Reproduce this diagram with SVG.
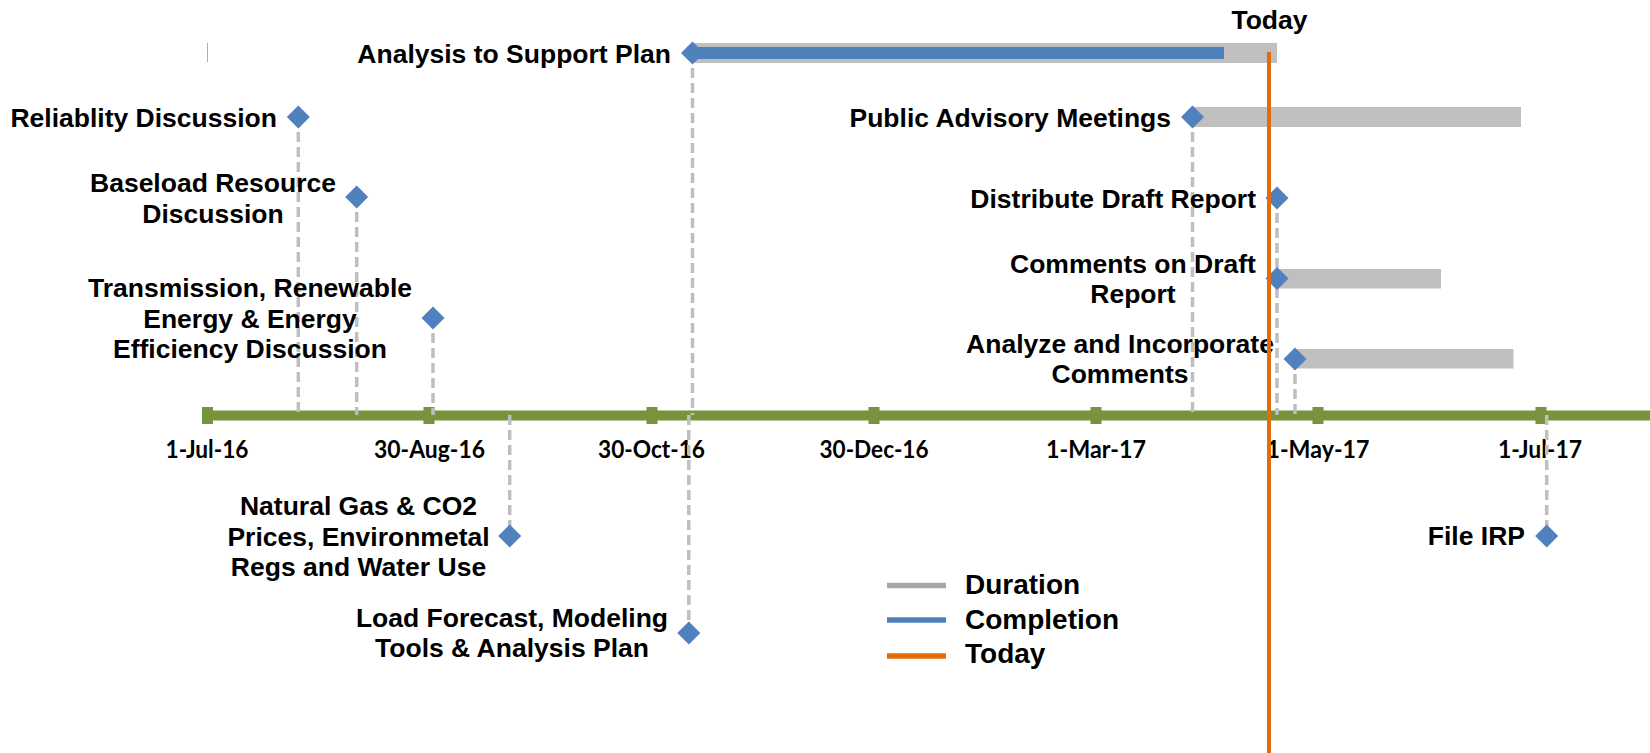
<svg xmlns="http://www.w3.org/2000/svg" xmlns:xlink="http://www.w3.org/1999/xlink" width="1650" height="753" viewBox="0 0 1650 753">
<style>
.lbl{font-family:"Liberation Sans",Arial,sans-serif;font-weight:bold;font-size:26.5px;fill:#000}
.end{text-anchor:end}
.mid{text-anchor:middle}
.ax{font-family:Lato,"Liberation Sans",sans-serif;font-weight:bold;font-size:24px;fill:#000;text-anchor:middle}
.leg{font-family:"Liberation Sans",Arial,sans-serif;font-weight:bold;font-size:28px;fill:#000}
.drop{stroke:#BFBFBF;stroke-width:3.5;stroke-dasharray:10,5;fill:none}
.dur{fill:#BFBFBF}
.comp{fill:#4F81BD}
.dia{fill:#4F81BD}
.tick{fill:#77933C}
</style>
<defs>
<path id="dia" d="M0,-11.5 L11.5,0 L0,11.5 L-11.5,0Z"/>
</defs>
<rect width="1650" height="753" fill="#fff"/>

<g id="axis">
<line x1="202" y1="415.5" x2="1650" y2="415.5" stroke="#77933C" stroke-width="10"/>
<rect class="tick" x="202" y="407" width="11" height="17"/>
<rect class="tick" x="423.5" y="407" width="11" height="17"/>
<rect class="tick" x="646.5" y="407" width="11" height="17"/>
<rect class="tick" x="868.5" y="407" width="11" height="17"/>
<rect class="tick" x="1090.5" y="407" width="11" height="17"/>
<rect class="tick" x="1312.5" y="407" width="11" height="17"/>
<rect class="tick" x="1535.5" y="407" width="11" height="17"/>
<text class="ax" x="207" y="457.5" textLength="83" lengthAdjust="spacingAndGlyphs">1-Jul-16</text>
<text class="ax" x="429.5" y="457.5" textLength="111" lengthAdjust="spacingAndGlyphs">30-Aug-16</text>
<text class="ax" x="651.5" y="457.5" textLength="107" lengthAdjust="spacingAndGlyphs">30-Oct-16</text>
<text class="ax" x="874" y="457.5" textLength="109" lengthAdjust="spacingAndGlyphs">30-Dec-16</text>
<text class="ax" x="1096" y="457.5" textLength="100" lengthAdjust="spacingAndGlyphs">1-Mar-17</text>
<text class="ax" x="1318" y="457.5" textLength="103" lengthAdjust="spacingAndGlyphs">1-May-17</text>
<text class="ax" x="1540" y="457.5" textLength="84" lengthAdjust="spacingAndGlyphs">1-Jul-17</text>
</g>

<g id="bars">
<rect class="dur" x="692" y="43" width="585" height="20"/>
<rect class="comp" x="692" y="47" width="532" height="12"/>
<rect class="dur" x="1192" y="107" width="329" height="20"/>
<rect class="dur" x="1277" y="269" width="164" height="19.5"/>
<rect class="dur" x="1295" y="349" width="218.5" height="19.5"/>
<line x1="207.5" y1="43" x2="207.5" y2="62" stroke="#4F81BD" stroke-width="1" opacity="0.6"/>
</g>

<g id="connectors">
<line class="drop" x1="298.3" y1="117" x2="298.3" y2="415"/>
<line class="drop" x1="356.7" y1="197" x2="356.7" y2="415"/>
<line class="drop" x1="433" y1="318" x2="433" y2="415"/>
<line class="drop" x1="509.7" y1="415" x2="509.7" y2="536"/>
<line class="drop" x1="688.8" y1="415" x2="688.8" y2="633"/>
<line class="drop" x1="692.5" y1="53" x2="692.5" y2="415"/>
<line class="drop" x1="1192.5" y1="117" x2="1192.5" y2="415"/>
<line class="drop" x1="1277" y1="198" x2="1277" y2="415"/>
<line class="drop" x1="1295" y1="359" x2="1295" y2="415"/>
<line class="drop" x1="1546.7" y1="415" x2="1546.7" y2="536"/>
</g>

<g id="reliability">
<use href="#dia" x="298.3" y="117" class="dia"/>
<text class="lbl end" x="277" y="127">Reliablity Discussion</text>
</g>
<g id="baseload">
<use href="#dia" x="356.7" y="197" class="dia"/>
<text class="lbl mid" x="213"><tspan x="213" y="191.7">Baseload Resource</tspan><tspan x="213" y="222.7">Discussion</tspan></text>
</g>
<g id="transmission">
<use href="#dia" x="433" y="318" class="dia"/>
<text class="lbl mid" x="250"><tspan x="250" y="297">Transmission, Renewable</tspan><tspan x="250" y="327.5">Energy &amp; Energy</tspan><tspan x="250" y="358">Efficiency Discussion</tspan></text>
</g>
<g id="naturalgas">
<use href="#dia" x="509.7" y="536" class="dia"/>
<text class="lbl mid" x="358.5"><tspan x="358.5" y="515">Natural Gas &amp; CO2</tspan><tspan x="358.5" y="546">Prices, Environmetal</tspan><tspan x="358.5" y="576">Regs and Water Use</tspan></text>
</g>
<g id="loadforecast">
<use href="#dia" x="688.8" y="633" class="dia"/>
<text class="lbl mid" x="512"><tspan x="512" y="626.7">Load Forecast, Modeling</tspan><tspan x="512" y="656.7">Tools &amp; Analysis Plan</tspan></text>
</g>
<g id="analysis">
<use href="#dia" x="692.5" y="53" class="dia"/>
<text class="lbl end" x="671" y="63">Analysis to Support Plan</text>
</g>
<g id="publicadvisory">
<use href="#dia" x="1192.5" y="117" class="dia"/>
<text class="lbl end" x="1171" y="127">Public Advisory Meetings</text>
</g>
<g id="distribute">
<use href="#dia" x="1277" y="198" class="dia"/>
<text class="lbl end" x="1256" y="207.5">Distribute Draft Report</text>
</g>
<g id="comments">
<use href="#dia" x="1277" y="278.5" class="dia"/>
<text class="lbl mid" x="1133"><tspan x="1133" y="272.7">Comments on Draft</tspan><tspan x="1133" y="303.3">Report</tspan></text>
</g>
<g id="analyze">
<use href="#dia" x="1295" y="359" class="dia"/>
<text class="lbl mid" x="1120"><tspan x="1120" y="353.3">Analyze and Incorporate</tspan><tspan x="1120" y="382.7">Comments</tspan></text>
</g>
<g id="fileirp">
<use href="#dia" x="1546.7" y="536" class="dia"/>
<text class="lbl end" x="1525" y="545">File IRP</text>
</g>

<g id="today">
<line x1="1269" y1="52" x2="1269" y2="753" stroke="#E36C09" stroke-width="4"/>
<text class="lbl mid" x="1269.5" y="29">Today</text>
</g>

<g id="legend">
<line x1="887" y1="585.5" x2="946" y2="585.5" stroke="#A6A6A6" stroke-width="5.5"/>
<line x1="887" y1="620" x2="946" y2="620" stroke="#4F81BD" stroke-width="5.5"/>
<line x1="887" y1="656" x2="946" y2="656" stroke="#E36C09" stroke-width="5.5"/>
<text class="leg" x="965" y="593.5">Duration</text>
<text class="leg" x="965" y="628.5">Completion</text>
<text class="leg" x="965" y="663">Today</text>
</g>
</svg>
